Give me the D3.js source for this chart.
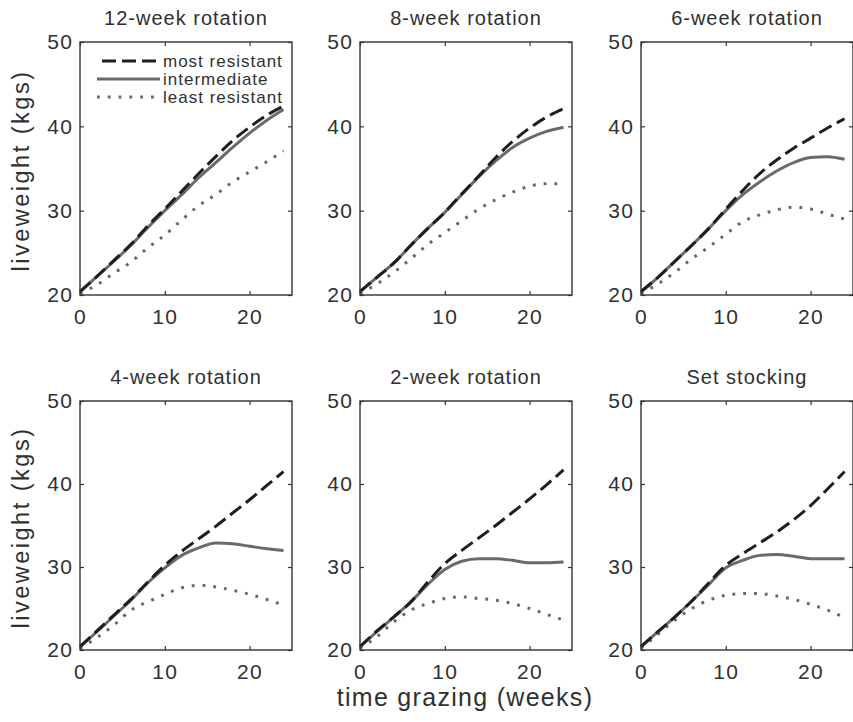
<!DOCTYPE html>
<html>
<head>
<meta charset="utf-8">
<script src="https://cdn.jsdelivr.net/npm/d3@7"></script>
<style>
  body { margin: 0; background: #fff; }
  svg { display: block; }
  text { font-family: "Liberation Sans", Arial, sans-serif; fill: #303030; }
</style>
</head>
<body>
<div id="chart"></div>
<script>
var weeks = [0, 2, 4, 6, 8, 10, 12, 14, 16, 18, 20, 22, 24];
var panelTitles = ["12-week rotation", "8-week rotation", "6-week rotation",
                   "4-week rotation", "2-week rotation", "Set stocking"];
var seriesNames = ["most resistant", "intermediate", "least resistant"];
var xTicks = [0, 10, 20];
var yTicks = [20, 30, 40, 50];

// liveweight (kgs) per panel
var mostResistant = [
    [20.4, 22.2, 24.1, 26.0, 28.2, 30.2, 32.3, 34.4, 36.4, 38.3, 39.9, 41.3, 42.4],
    [20.4, 22.1, 23.8, 25.9, 27.9, 29.8, 32.0, 34.1, 36.3, 38.2, 39.8, 41.1, 42.1],
    [20.4, 22.1, 24.0, 25.9, 27.9, 30.2, 32.4, 34.4, 36.0, 37.4, 38.6, 39.8, 40.9],
    [20.4, 22.3, 24.2, 26.1, 28.2, 30.2, 31.9, 33.4, 34.9, 36.5, 38.1, 39.8, 41.5],
    [20.4, 22.3, 24.0, 25.8, 28.2, 30.4, 32.0, 33.5, 35.0, 36.6, 38.2, 39.9, 41.7],
    [20.4, 22.2, 24.0, 25.9, 28.1, 30.2, 31.6, 32.9, 34.2, 35.7, 37.4, 39.4, 41.5]
];
var intermediate = [
    [20.4, 22.2, 24.0, 25.9, 28.0, 30.0, 31.9, 33.9, 35.7, 37.5, 39.2, 40.7, 42.0],
    [20.4, 22.1, 23.8, 25.9, 27.9, 29.8, 31.9, 34.0, 35.9, 37.5, 38.6, 39.4, 39.9],
    [20.4, 22.1, 24.0, 25.9, 27.9, 30.0, 31.9, 33.4, 34.7, 35.7, 36.3, 36.4, 36.1],
    [20.4, 22.2, 24.1, 26.0, 28.1, 29.9, 31.4, 32.3, 32.9, 32.8, 32.5, 32.2, 32.0],
    [20.4, 22.2, 24.0, 25.8, 27.9, 29.7, 30.7, 31.0, 31.0, 30.8, 30.5, 30.5, 30.6],
    [20.4, 22.2, 24.0, 25.9, 27.9, 29.9, 30.8, 31.4, 31.5, 31.3, 31.0, 31.0, 31.0]
];
var leastResistant = [
    [20.2, 21.2, 22.6, 23.9, 25.6, 27.1, 28.9, 30.6, 31.9, 33.4, 34.6, 35.8, 37.1],
    [20.2, 21.3, 22.7, 24.3, 26.0, 27.4, 28.8, 30.2, 31.3, 32.2, 32.9, 33.2, 33.2],
    [20.2, 21.3, 22.7, 24.3, 25.7, 27.2, 28.7, 29.5, 30.1, 30.4, 30.2, 29.6, 29.0],
    [20.2, 21.5, 23.0, 24.8, 25.8, 26.7, 27.5, 27.8, 27.6, 27.2, 26.7, 26.1, 25.4],
    [20.2, 21.6, 23.4, 24.8, 25.6, 26.2, 26.4, 26.2, 26.0, 25.6, 25.0, 24.3, 23.6],
    [20.2, 21.9, 23.6, 25.0, 26.0, 26.6, 26.8, 26.8, 26.5, 26.1, 25.5, 24.8, 23.9]
];

var canvasWidth = 853;
var canvasHeight = 722;
var colLefts = [80, 360, 641];
var rowTops = [42, 401];
var panelWidth = 212;
var rowHeights = [253, 249];

var styles = [
    {color: "#1e1e1e", dash: "14,6", width: 3},
    {color: "#6a6a6a", dash: null, width: 3},
    {color: "#666", dash: "2.8,8", width: 3}
];

var svg = d3.select("#chart").append("svg")
    .attr("width", canvasWidth)
    .attr("height", canvasHeight);

function drawPanel(i) {
    var col = i % 3, row = Math.floor(i / 3);
    var w = panelWidth, h = rowHeights[row];
    var g = svg.append("g")
        .attr("transform", "translate(" + colLefts[col] + "," + rowTops[row] + ")");

    var x = d3.scaleLinear().domain([0, 25]).range([0, w]);
    var y = d3.scaleLinear().domain([20, 50]).range([h, 0]);

    // axes, ticks point inward like matlab
    g.append("g").attr("transform", "translate(0," + h + ")")
        .call(d3.axisBottom(x).tickValues(xTicks).tickSize(-4).tickPadding(14));
    g.append("g")
        .call(d3.axisLeft(y).tickValues(yTicks).tickSize(-4).tickPadding(6.5));
    g.append("g")
        .call(d3.axisTop(x).tickValues(xTicks).tickSize(-4).tickFormat(""));
    g.append("g").attr("transform", "translate(" + w + ",0)")
        .call(d3.axisRight(y).tickValues(yTicks).tickSize(-4).tickFormat(""));
    g.selectAll(".domain").remove();
    g.selectAll(".tick line").attr("stroke", "#333").attr("stroke-width", 1.2);
    g.selectAll(".tick text")
        .style("font-family", "'Liberation Sans', Arial, sans-serif")
        .style("font-size", "21px")
        .style("letter-spacing", "1.5px")
        .attr("fill", "#303030");

    var line = d3.line()
        .x(function (d) { return x(d[0]); })
        .y(function (d) { return y(d[1]); })
        .curve(d3.curveMonotoneX);

    var all = [mostResistant[i], intermediate[i], leastResistant[i]];
    for (var s = 2; s >= 0; s--) {
        var pts = weeks.map(function (wk, k) { return [wk, all[s][k]]; });
        g.append("path")
            .datum(pts)
            .attr("d", line)
            .attr("fill", "none")
            .attr("stroke", styles[s].color)
            .attr("stroke-width", styles[s].width)
            .attr("stroke-dasharray", styles[s].dash);
    }

    g.append("rect")
        .attr("width", w)
        .attr("height", h)
        .attr("fill", "none")
        .attr("stroke", "#333")
        .attr("stroke-width", 1.4);

    g.append("text")
        .attr("x", w / 2)
        .attr("y", -17)
        .attr("text-anchor", "middle")
        .style("font-size", "20px")
        .style("letter-spacing", "1px")
        .text(panelTitles[i]);

    if (i === 0) {
        var leg = g.append("g");
        seriesNames.forEach(function (name, s) {
            var ly = 19 + s * 18;
            leg.append("line")
                .attr("x1", s === 0 ? 22 : 17).attr("x2", 80)
                .attr("y1", ly).attr("y2", ly)
                .attr("stroke", styles[s].color)
                .attr("stroke-width", styles[s].width)
                .attr("stroke-dasharray", styles[s].dash);
            leg.append("text")
                .attr("x", 83)
                .attr("y", ly + 6)
                .style("font-size", "17px")
                .style("letter-spacing", "1px")
                .text(name);
        });
    }
}

for (var i = 0; i < panelTitles.length; i++) drawPanel(i);

// y labels, one per row
for (var r = 0; r < 2; r++) {
    var cy = rowTops[r] + rowHeights[r] / 2 + 2;
    svg.append("text")
        .attr("transform", "translate(29," + cy + ") rotate(-90)")
        .attr("text-anchor", "middle")
        .style("font-size", "23.5px")
        .style("letter-spacing", "2.5px")
        .text("liveweight (kgs)");
}

svg.append("text")
    .attr("x", 465)
    .attr("y", 706)
    .attr("text-anchor", "middle")
    .style("font-size", "25px")
    .style("letter-spacing", "1.3px")
    .text("time grazing (weeks)");
</script>
</body>
</html>
